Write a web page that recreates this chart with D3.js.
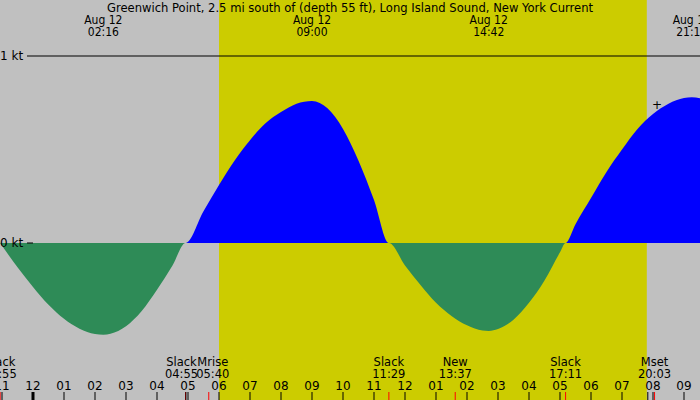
<!DOCTYPE html><html><head><meta charset="utf-8"><script src="https://d3js.org/d3.v7.min.js"></script>
<style>body{margin:0}svg{display:block}text{font-family:"DejaVu Sans",sans-serif;font-size:12px}.cd{font-family:"DejaVu Sans Condensed","DejaVu Sans",sans-serif;font-stretch:condensed}</style></head><body>
<svg id="c" width="700" height="400"></svg>
<script>
const title="Greenwich Point, 2.5 mi south of (depth 55 ft), Long Island Sound, New York Current";
const hours=[-1.06,-0.5,0,0.5,1,1.5,2,2.27,2.5,3,3.5,4,4.5,4.92,5.5,6,6.5,7,7.5,8,8.5,9,9.5,10,10.5,11,11.48,12,12.5,13,13.5,14,14.5,14.7,15,15.5,16,16.5,17,17.18,17.5,18,18.5,19,19.5,20,20.5,21,21.25,21.6];
const speeds=[0,-0.13,-0.235,-0.33,-0.405,-0.458,-0.486,-0.49,-0.485,-0.445,-0.365,-0.25,-0.12,0,0.17,0.31,0.44,0.55,0.64,0.70,0.745,0.76,0.72,0.61,0.44,0.23,0,-0.12,-0.225,-0.32,-0.39,-0.44,-0.468,-0.47,-0.46,-0.41,-0.32,-0.20,-0.05,0,0.10,0.24,0.38,0.50,0.61,0.69,0.745,0.775,0.78,0.77];
const peakTimes=[2.27,9.0,14.7,21.25];
const peakLabels=["02:16","09:00","14:42","21:15"];
const events=[{h:-1.06,n:"Slack",t:"23:55"},{h:4.92,n:"Slack",t:"04:55"},{h:5.67,n:"Mrise",t:"05:40"},{h:11.48,n:"Slack",t:"11:29"},{h:13.62,n:"New",t:"13:37"},{h:17.18,n:"Slack",t:"17:11"},{h:20.05,n:"Mset",t:"20:03"}];
const labelShift=[0,-4,4,0,0,0,0];
const tickHours=d3.range(-1,22);
const tickLabels=["11","12","01","02","03","04","05","06","07","08","09","10","11","12","01","02","03","04","05","06","07","08","09"];
const sunrise=6.0, sunset=19.8;

const svg=d3.select("#c");
const x=d3.scaleLinear().domain([0,6]).range([33,219]);
const y=d3.scaleLinear().domain([0,1]).range([243,56]);
svg.append("rect").attr("width",700).attr("height",400).attr("fill","#c0c0c0");
svg.append("rect").attr("x",x(sunrise)).attr("width",x(sunset)-x(sunrise)).attr("y",0).attr("height",400).attr("fill","#cccc00");
const data=hours.map((h,i)=>({h,v:speeds[i]}));
const ar=f=>d3.area().x(d=>x(d.h)).y0(y(0)).y1(d=>y(f(d.v))).curve(d3.curveMonotoneX);
svg.append("path").datum(data).attr("d",ar(v=>Math.max(v,0))).attr("fill","#0000ff");
svg.append("path").datum(data).attr("d",ar(v=>Math.min(v,0))).attr("fill","#2e8b57");
svg.append("line").attr("x1",27).attr("x2",700).attr("y1",y(1)).attr("y2",y(1)).attr("stroke","#000");
svg.append("line").attr("x1",27).attr("x2",33).attr("y1",y(0)).attr("y2",y(0)).attr("stroke","#000");
svg.append("text").attr("x",0).attr("y",y(1)+4).text("1 kt");
svg.append("text").attr("x",0).attr("y",y(0)+4).text("0 kt");
svg.append("text").attr("x",657).attr("y",109).attr("text-anchor","middle").text("+");
svg.append("text").attr("class","cd").attr("x",350).attr("y",12).attr("text-anchor","middle").attr("textLength",486).attr("lengthAdjust","spacingAndGlyphs").text(title);
peakTimes.forEach((h,i)=>{
 svg.append("text").attr("class","cd").attr("x",x(h)).attr("y",24).attr("text-anchor","middle").text("Aug 12");
 svg.append("text").attr("class","cd").attr("x",x(h)).attr("y",36).attr("text-anchor","middle").text(peakLabels[i]);
});
events.forEach((e,i)=>{
 svg.append("text").attr("x",x(e.h)+labelShift[i]).attr("y",366).attr("text-anchor","middle").style("font-size","11.5px").text(e.n);
 svg.append("text").attr("x",x(e.h)+labelShift[i]).attr("y",378).attr("text-anchor","middle").style("font-size","11.5px").text(e.t);
 svg.append("line").attr("x1",x(e.h)).attr("x2",x(e.h)).attr("y1",392).attr("y2",400).attr("stroke","red");
});
tickHours.forEach((h,i)=>{
 svg.append("text").attr("x",x(h)).attr("y",390).attr("text-anchor","middle").text(tickLabels[i]);
 svg.append("line").attr("x1",x(h)).attr("x2",x(h)).attr("y1",392).attr("y2",400).attr("stroke","#000").attr("stroke-width",h===0?3:1);
});
[4.9,sunset].forEach(h=>svg.append("line").attr("x1",x(h)+1).attr("x2",x(h)+1).attr("y1",392).attr("y2",400).attr("stroke","#000"));
</script></body></html>
